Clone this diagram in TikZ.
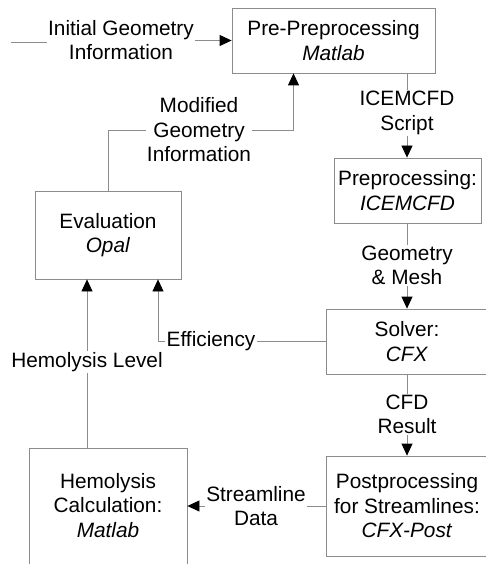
\documentclass[tikz,border=0pt]{standalone}
\usepackage{fontspec}
\setmainfont{Liberation Sans}
\usetikzlibrary{arrows.meta,calc}
\begin{document}
\begin{tikzpicture}[x=1pt,y=-1pt,
  every node/.style={font=\fontsize{20.8}{24.5}\selectfont, align=center, inner sep=1pt},
  box/.style={draw=gray!90, line width=0.8pt, inner sep=0pt},
  conn/.style={draw=gray!90, line width=0.8pt},
  arr/.style={conn, -{Triangle[length=12pt,width=11pt,fill=black,color=black]}}]
\useasboundingbox (0,0) rectangle (486,564);
\clip (0,0) rectangle (486,564);
% boxes
\node[box, minimum width=203, minimum height=65] (pre) at (333.5,40.5) {Pre-Preprocessing\\\textit{Matlab}};
\node[box, minimum width=147, minimum height=65] (prep) at (407.5,190.5) {Preprocessing:\\\textit{ICEMCFD}};
\node[box, minimum width=162, minimum height=65] (solver) at (407,341.5) {Solver:\\\textit{CFX}};
\node[box, minimum width=162, minimum height=100] (post) at (407,506) {Postprocessing\\for Streamlines:\\\textit{CFX-Post}};
\node[box, minimum width=146, minimum height=88] (eval) at (108,235) {Evaluation\\\textit{Opal}};
\node[box, minimum width=158, minimum height=130] (hemo) at (108,513) {};
\node (hemotext) at (108,505.5) {Hemolysis\\Calculation:\\\textit{Matlab}};
% labels
\node (init) at (121,40) {Initial Geometry\\Information};
\node (mod) at (199,130) {Modified\\Geometry\\Information};
\node (ice) at (407,113) {ICEMCFD\\Script};
\node (geo) at (407,265.5) {Geometry\\\& Mesh};
\node (eff) at (211,341.5) {Efficiency};
\node (hl) at (87,362) {Hemolysis Level};
\node (cfd) at (407,414.5) {CFD\\Result};
\node (stream) at (256,506) {Streamline\\Data};
\coordinate (start) at (11,42);
% connectors
\draw[conn] (start) -- (start -| init.west);
\draw[arr] (init.east |- pre.west) -- (pre.west);
\draw[conn] (eval.north) |- (mod.west);
\draw[arr] (mod.east) -| ($(pre.south)+(-40,0)$);
\draw[conn] (ice.north |- pre.south) -- (ice.north);
\draw[arr] (ice.south) -- (ice.south |- prep.north);
\draw[conn] (geo.north |- prep.south) -- (geo.north);
\draw[arr] (geo.south) -- (geo.south |- solver.north);
\draw[conn] (solver.west) -- (eff.east);
\draw[arr] (eff.west) -| ($(eval.south)+(50,0)$);
\draw[conn] (hl.south |- hemo.north) -- (hl.south);
\draw[arr] (hl.north) -- (hl.north |- eval.south);
\draw[conn] (cfd.north |- solver.south) -- (cfd.north);
\draw[arr] (cfd.south) -- (cfd.south |- post.north);
\draw[conn] (post.west) -- (stream.east);
\draw[arr] (stream.west) -- (hemo.east |- stream.west);
\end{tikzpicture}
\end{document}
